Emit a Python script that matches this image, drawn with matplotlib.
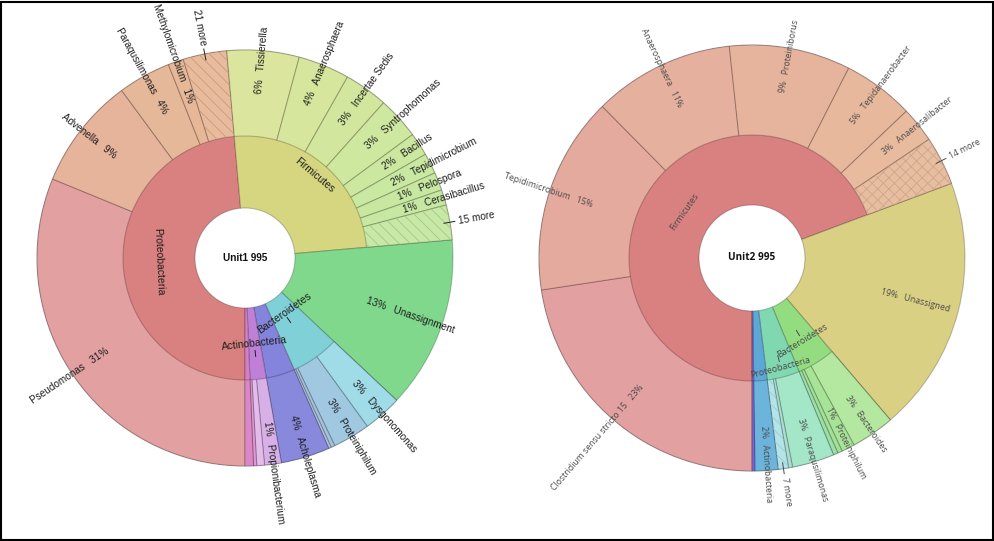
import matplotlib
matplotlib.use('Agg')
import matplotlib.pyplot as plt
from matplotlib.patches import Wedge, Rectangle
import numpy as np

# ---------------- DATA ----------------
u1_title = 'Unit1 995'
u1_phyla = ['Proteobacteria', 'Firmicutes', 'Unassignment', 'Bacteroidetes',
            'Tenericutes', 'Actinobacteria', '']
u1_phyla_pct = [48.6, 25.0, 13.4, 6.4, 3.8, 2.15, 0.65]
u1_genus = ['Pseudomonas', 'Advenella', 'Paraqusilimonas', 'Methylomicrobium', '21 more',
            'Tissierella', 'Anaerosphaera', 'Incertae Sedis', 'Syntrophomonas', 'Bacillus',
            'Tepidimicrobium', 'Pelospora', 'Cerasibacillus', '15 more',
            'Unassignment',
            'Dysgonomonas', 'Proteiniphilum', '', '',
            'Acholeplasma',
            'Propionibacterium', '', '',
            '']
u1_genus_pct = [31.2, 8.7, 4.1, 1.2, 3.4,
                5.6, 4.0, 3.4, 3.3, 1.8, 1.6, 1.4, 1.2, 2.7,
                13.4,
                3.0, 2.9, 0.3, 0.2,
                3.8,
                1.3, 0.6, 0.25,
                0.65]

u2_title = 'Unit2 995'
u2_phyla = ['Firmicutes', 'Unassigned', 'Bacteroidetes', 'Proteobacteria', 'Actinobacteria', '']
u2_phyla_pct = [69.3, 19.45, 5.0, 4.28, 1.75, 0.22]
u2_genus = ['Clostridium sensu stricto 15', 'Tepidimicrobium', 'Anaerosphaera', 'Proteiniborus',
            'Tepidanaerobacter', 'Anaerosalibacter', '14 more',
            'Unassigned',
            'Bacteroides', 'Proteiniphilum', '', '',
            'Paraqusilimonas', '', '7 more',
            'Actinobacteria',
            '']
u2_genus_pct = [22.6, 15.0, 10.7, 9.2, 5.4, 2.7, 3.7,
                19.45,
                3.3, 1.0, 0.35, 0.35,
                3.2, 0.3, 0.78,
                1.75,
                0.22]

# ---------------- STYLE ----------------
u1_phyla_col = ['#d98080', '#d6d680', '#80d88c', '#80d0d8', '#8484dc', '#c080d8', '#d67fc8']
u1_genus_col = ['#e2a0a0', '#e6b39b', '#e6b89a', '#e6b898', '#e8bb9c',
                '#dce59d', '#d6e69d', '#d2e69d', '#cee89f', '#cce8a0', '#c9e8a1', '#c8e8a2',
                '#c6e8a3', '#c8e8a8',
                '#80d88c',
                '#a0dce8', '#a0c8e0', '#a8c0dc', '#b0c4e0',
                '#8888dc',
                '#d8b0e8', '#e4bcea', '#e098d4',
                '#dc88c8']
u2_phyla_col = ['#d98080', '#d9d084', '#94dc80', '#80d8b0', '#5ea8d8', '#7a62d6']
u2_genus_col = ['#e2a0a0', '#e4aa9e', '#e5b09e', '#e6b49c', '#e7b89c', '#e8bb9e', '#e8bea0',
                '#d9d084',
                '#b4e8a0', '#a8e498', '#a4e09a', '#9ce0a8',
                '#a4e6c8', '#acdcd4', '#b4e4e8',
                '#6cb4dc',
                '#7a66d6']

W, H = 994, 541
fig = plt.figure(figsize=(W / 100, H / 100), dpi=100)
ax = fig.add_axes([0, 0, 1, 1])
plt.rcParams['hatch.linewidth'] = 0.6


def norm180(a):
    a = (a + 180.0) % 360.0 - 180.0
    return a


def draw_unit(cx, cy, r_hole, r_mid, R, phyla, ppct, pcol, genus, gpct, gcol,
              span, title, fs, tcol, family, mid_labels, hatch_info, ticks):
    ep = dict(edgecolor=(0, 0, 0, 0.22), linewidth=0.8)
    inner, _ = ax.pie(ppct, radius=R, center=(cx, cy), startangle=270, counterclock=False,
                      colors=pcol, wedgeprops=dict(width=R - r_hole, **ep))
    outer, _ = ax.pie(gpct, radius=R, center=(cx, cy), startangle=270, counterclock=False,
                      colors=gcol, wedgeprops=dict(width=R - r_mid, **ep))
    tkw = dict(fontsize=fs, color=tcol, family=family, rotation_mode='anchor', va='center')
    for w, name, pct in zip(outer, genus, gpct):
        if name == span:
            w.set_visible(False)
        if not name:
            continue
        md = norm180((w.theta1 + w.theta2) / 2.0)
        mr = np.deg2rad(md)
        right = np.cos(mr) >= -1e-6
        ptxt = '%d%%' % int(np.floor(pct + 0.5))
        if name.endswith(' more'):
            hc, hp = hatch_info[name]
            ax.add_patch(Wedge((cx, cy), R, w.theta1, w.theta2, width=R - r_mid,
                               fill=False, hatch=hp, edgecolor=hc, linewidth=0))
            ax.plot([cx + (R - 6) * np.cos(mr), cx + (R + 5) * np.cos(mr)],
                    [cy + (R - 6) * np.sin(mr), cy + (R + 5) * np.sin(mr)],
                    color=tcol, lw=0.7)
            rl = R + 9
            x, y = cx + rl * np.cos(mr), cy + rl * np.sin(mr)
            if right:
                ax.text(x, y, name, rotation=md, ha='left', **tkw)
            else:
                ax.text(x, y, name, rotation=md + 180, ha='right', **tkw)
            continue
        rl = (r_hole + R) / 2.0 if name == span else (r_mid + R) / 2.0
        x, y = cx + rl * np.cos(mr), cy + rl * np.sin(mr)
        if right:
            ax.text(x, y, ptxt + '   ' + name, rotation=md, ha='left', **tkw)
        else:
            ax.text(x, y, name + '   ' + ptxt, rotation=md + 180, ha='right', **tkw)
    # tangential labels in the phylum ring
    for w, name in zip(inner, phyla):
        if name in mid_labels:
            md = (w.theta1 + w.theta2) / 2.0
            mr = np.deg2rad(md)
            rl = mid_labels[name]
            rot = norm180(md - 90.0)
            if rot > 90:
                rot -= 180
            if rot <= -90:
                rot += 180
            ax.text(cx + rl * np.cos(mr), cy + rl * np.sin(mr), name, rotation=rot,
                    ha='center', va='center', rotation_mode='anchor',
                    fontsize=fs + 0.3, color=tcol, family=family)
        if name in ticks:
            md = (w.theta1 + w.theta2) / 2.0
            mr = np.deg2rad(md)
            r0 = ticks[name]
            ax.plot([cx + (r0 - 3) * np.cos(mr), cx + (r0 + 3) * np.cos(mr)],
                    [cy + (r0 - 3) * np.sin(mr), cy + (r0 + 3) * np.sin(mr)],
                    color=tcol, lw=0.7)
    ax.text(cx, cy, title, ha='center', va='center', fontsize=7.2, weight='bold',
            color='#111111', family=family)


draw_unit(245, H - 258, 50, 122, 208, u1_phyla, u1_phyla_pct, u1_phyla_col,
          u1_genus, u1_genus_pct, u1_genus_col, 'Unassignment', u1_title,
          7.2, '#1e1e1e', 'Liberation Sans',
          {'Proteobacteria': 86, 'Firmicutes': 108, 'Bacteroidetes': 68, 'Actinobacteria': 86},
          {'21 more': ('#c99a80', '\\\\\\'), '15 more': ('#a6c682', '\\\\\\')},
          {'Bacteroidetes': 76, 'Actinobacteria': 96})

draw_unit(752, H - 258, 53, 123, 213, u2_phyla, u2_phyla_pct, u2_phyla_col,
          u2_genus, u2_genus_pct, u2_genus_col, 'Unassigned', u2_title,
          6.2, '#4a4a4a', 'Open Sans',
          {'Firmicutes': 82, 'Bacteroidetes': 97, 'Proteobacteria': 113},
          {'14 more': ('#cfa58c', 'xxx'), '7 more': ('#98ccd4', '\\\\\\')},
          {'Bacteroidetes': 88, 'Proteobacteria': 104})

ax.add_patch(Rectangle((1, 1), W - 2, H - 3, fill=False, edgecolor='black', lw=1.5, clip_on=False))
ax.set_xlim(0, W)
ax.set_ylim(0, H)
ax.set_aspect('auto')
ax.axis('off')
fig.savefig('out.png', dpi=100)
